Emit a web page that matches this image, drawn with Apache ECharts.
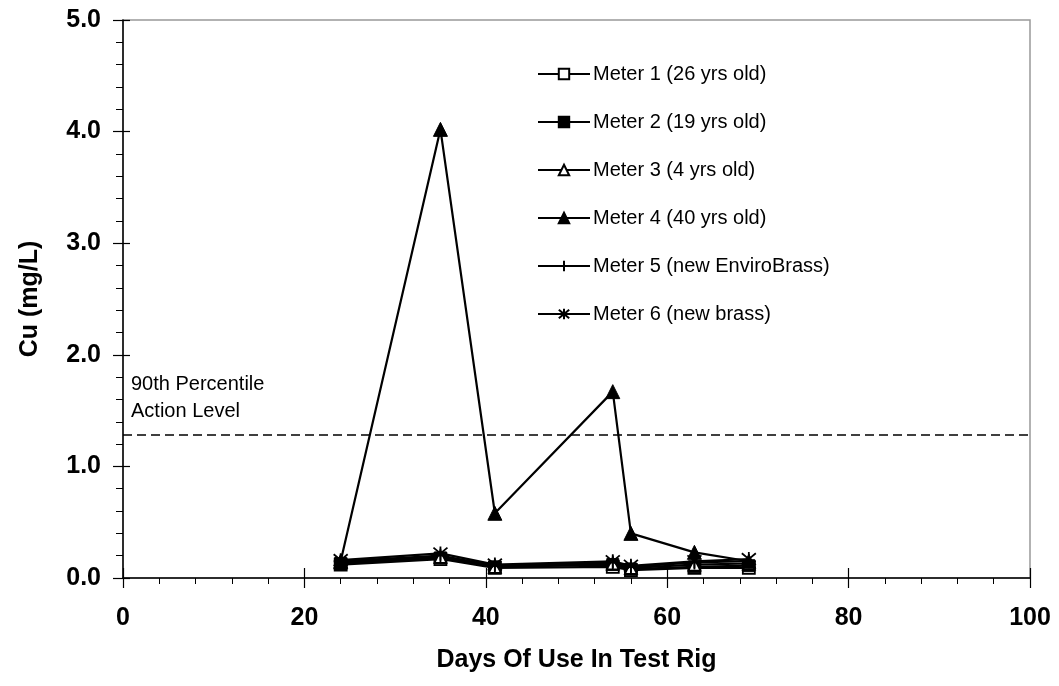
<!DOCTYPE html>
<html>
<head>
<meta charset="utf-8">
<script src="https://cdn.jsdelivr.net/npm/echarts@6/dist/echarts.min.js"></script>
<style>html,body{margin:0;padding:0;background:#fff}#c{width:1059px;height:686px}</style>
</head>
<body>
<div id="c"></div>
<script>
const days = [24, 35, 41, 54, 56, 63, 69];
const meter1 = [0.12, 0.17, 0.09, 0.10, 0.07, 0.09, 0.09];
const meter2 = [0.13, 0.18, 0.10, 0.12, 0.08, 0.10, 0.11];
const meter3 = [0.14, 0.19, 0.10, 0.13, 0.09, 0.12, 0.13];
const meter4 = [0.15, 4.02, 0.58, 1.67, 0.40, 0.23, 0.15];
const meter5 = [0.15, 0.20, 0.11, 0.14, 0.10, 0.14, 0.15];
const meter6 = [0.16, 0.22, 0.12, 0.15, 0.11, 0.15, 0.17];
const seriesNames = ['Meter 1 (26 yrs old)', 'Meter 2 (19 yrs old)', 'Meter 3 (4 yrs old)',
  'Meter 4 (40 yrs old)', 'Meter 5 (new EnviroBrass)', 'Meter 6 (new brass)'];
const actionLevel = 1.28;
const actionLabel = ['90th Percentile', 'Action Level'];
const xTitle = 'Days Of Use In Test Rig';
const yTitle = 'Cu (mg/L)';

const FONT = '"Liberation Sans", Arial, sans-serif';
const pts = arr => days.map((d, i) => [d, arr[i]]);

const markers = [
  {symbol: 'rect', size: 12, fill: '#fff', border: '#000', bw: 1.8},
  {symbol: 'rect', size: 12, fill: '#000', border: '#000', bw: 1},
  {symbol: 'triangle', size: 12, fill: '#fff', border: '#000', bw: 1.8},
  {symbol: 'triangle', size: 14, fill: '#000', border: '#000', bw: 1},
  {symbol: 'path://M0,5L10,5M5,0L5,10', size: 14, fill: 'none', border: '#000', bw: 1.8},
  {symbol: 'path://M0,0L10,10M10,0L0,10M5,-1L5,11', size: 14, fill: 'none', border: '#000', bw: 1.8}
];
const data = [meter1, meter2, meter3, meter4, meter5, meter6];

const series = data.map((arr, i) => ({
  name: seriesNames[i],
  type: 'line',
  data: pts(arr),
  symbol: markers[i].symbol,
  symbolSize: markers[i].size,
  showAllSymbol: true,
  lineStyle: {color: '#000', width: 2.2},
  itemStyle: {color: markers[i].fill, borderColor: markers[i].border, borderWidth: markers[i].bw},
  emphasis: {disabled: true},
  z: 3
}));
series.push({
  type: 'line',
  data: [],
  markLine: {
    silent: true,
    symbol: 'none',
    label: {show: false},
    lineStyle: {color: '#000', type: [9, 5], width: 1.5},
    data: [{yAxis: actionLevel}]
  }
});

const chart = echarts.init(document.getElementById('c'));
chart.setOption({
  backgroundColor: '#fff',
  animation: false,
  grid: {left: 123, right: 29, top: 20, bottom: 108, show: true, borderColor: '#999', borderWidth: 1.5},
  legend: {
    orient: 'vertical',
    left: 532, top: 59,
    itemWidth: 52, itemHeight: 13,
    itemGap: 28,
    textStyle: {fontFamily: FONT, fontSize: 20, color: '#000', padding: [0, 0, 0, -2]},
    data: seriesNames
  },
  xAxis: [{
    type: 'value', min: 0, max: 100, interval: 20,
    axisLine: {show: true, lineStyle: {color: '#000', width: 1.5}},
    axisTick: {show: true, length: 10, lineStyle: {color: '#000', width: 1.2}},
    minorTick: {show: true, splitNumber: 5, length: 6, lineStyle: {color: '#000', width: 1}},
    splitLine: {show: false},
    axisLabel: {fontFamily: FONT, fontSize: 25, fontWeight: 'bold', color: '#000', margin: 28},
    name: xTitle, nameLocation: 'middle', nameGap: 70,
    nameTextStyle: {fontFamily: FONT, fontSize: 25, fontWeight: 'bold', color: '#000'}
  }, {
    type: 'value', min: 0, max: 100, interval: 20, position: 'bottom',
    axisLine: {show: false},
    axisTick: {show: true, inside: true, length: 10, lineStyle: {color: '#000', width: 1.2}},
    axisLabel: {show: false}, splitLine: {show: false}
  }],
  yAxis: [{
    type: 'value', min: 0, max: 5, interval: 1,
    axisLine: {show: true, lineStyle: {color: '#000', width: 1.5}},
    axisTick: {show: true, length: 10, lineStyle: {color: '#000', width: 1.2}},
    minorTick: {show: true, splitNumber: 5, length: 7, lineStyle: {color: '#000', width: 1}},
    splitLine: {show: false},
    axisLabel: {fontFamily: FONT, fontSize: 25, fontWeight: 'bold', color: '#000', margin: 22,
      formatter: v => v.toFixed(1)},
    name: yTitle, nameLocation: 'middle', nameGap: 80,
    nameTextStyle: {fontFamily: FONT, fontSize: 25, fontWeight: 'bold', color: '#000'}
  }, {
    type: 'value', min: 0, max: 5, interval: 1, position: 'left',
    axisLine: {show: false},
    axisTick: {show: true, inside: true, length: 7, lineStyle: {color: '#000', width: 1.2}},
    axisLabel: {show: false}, splitLine: {show: false}
  }],
  graphic: [{
    type: 'text', left: 131, top: 371,
    style: {text: actionLabel.join('\n'), font: '20px ' + FONT, fill: '#000', lineHeight: 27}
  }],
  series: series
});
</script>
</body>
</html>
